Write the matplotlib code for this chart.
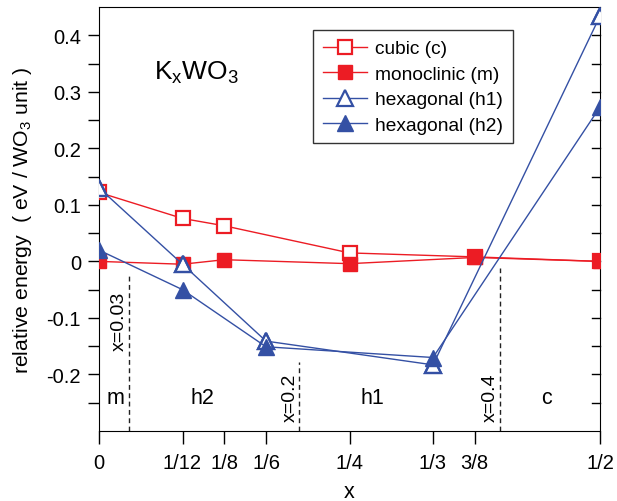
import matplotlib
matplotlib.use("Agg")
import matplotlib.pyplot as plt
import numpy as np

plt.rcParams['font.family'] = ['Liberation Sans', 'DejaVu Sans']
plt.rcParams['mathtext.fontset'] = 'custom'
plt.rcParams['mathtext.rm'] = 'Liberation Sans'
plt.rcParams['mathtext.it'] = 'Liberation Sans'

# Data
cubic_x = [0, 1/12, 1/8, 1/4, 3/8, 1/2]
cubic_y = [0.122, 0.076, 0.063, 0.015, 0.008, 0.0]
mono_x = [0, 1/12, 1/8, 1/4, 3/8, 1/2]
mono_y = [0.0, -0.005, 0.003, -0.004, 0.007, 0.0]
h1_x = [0, 1/12, 1/6, 1/3, 1/2]
h1_y = [0.130, -0.005, -0.141, -0.183, 0.434]
h2_x = [0, 1/12, 1/6, 1/3, 1/2]
h2_y = [0.020, -0.050, -0.151, -0.170, 0.273]

xticks = [0, 1/12, 1/8, 1/6, 1/4, 1/3, 3/8, 1/2]
xticklabels = ['0', '1/12', '1/8', '1/6', '1/4', '1/3', '3/8', '1/2']
yticks = [-0.2, -0.1, 0, 0.1, 0.2, 0.3, 0.4]
yticklabels = ['-0.2', '-0.1', '0', '0.1', '0.2', '0.3', '0.4']

boundaries = [0.03, 0.2, 0.4]
boundary_tops = [-0.02, -0.178, -0.012]
boundary_labels = ['x=0.03', 'x=0.2', 'x=0.4']
boundary_label_y = [-0.105, -0.24, -0.24]
phase_names = ['m', 'h2', 'h1', 'c']
phase_x = [0.016, 0.103, 0.273, 0.447]

red = '#ec1c24'
blue = '#3450a4'

fig = plt.figure(figsize=(6.17, 5.02), dpi=100)
ax = fig.add_axes([99/617, 1-432/502, 501/617, 424/502])

ax.plot(cubic_x, cubic_y, '-', color=red, lw=1, marker='s', ms=9.5,
        mfc='white', mec=red, mew=1.6, label='cubic (c)', zorder=3)
ax.plot(mono_x, mono_y, '-', color=red, lw=1, marker='s', ms=9.5,
        mfc=red, mec=red, label='monoclinic (m)', zorder=4)
ax.plot(h1_x, h1_y, '-', color=blue, lw=1, marker='^', ms=11,
        mfc='white', mec=blue, mew=1.6, label='hexagonal (h1)', zorder=5)
ax.plot(h2_x, h2_y, '-', color=blue, lw=1, marker='^', ms=11,
        mfc=blue, mec=blue, label='hexagonal (h2)', zorder=6)
ax.plot(h1_x, h1_y, 'none', marker='^', ms=11, mfc='none', mec=blue, mew=1.6, zorder=7)

for bx, bt, bl, by in zip(boundaries, boundary_tops, boundary_labels, boundary_label_y):
    ax.plot([bx, bx], [-0.3, bt], '--', color='#222222', lw=1, dashes=(3.5, 2.5))
    ax.text(bx - 0.0095, by, bl, rotation=90, ha='center', va='center', fontsize=14)

for px, pn in zip(phase_x, phase_names):
    ax.text(px, -0.24, pn, ha='center', va='center', fontsize=15.5)

ax.text(0.055, 0.335, r'K$_\mathregular{x}$WO$_\mathregular{3}$', fontsize=19, ha='left', va='center')

ax.set_xlim(0, 0.5)
ax.set_ylim(-0.3, 0.45)
ax.set_xticks(xticks)
ax.set_xticklabels(xticklabels, fontsize=14.5)
ax.set_yticks(yticks)
ax.set_yticklabels(yticklabels, fontsize=14.5)
ax.set_yticks(np.arange(-0.25, 0.45, 0.05), minor=True)
ax.tick_params(axis='y', which='both', direction='out', length=8, width=1, pad=5)
ax.tick_params(axis='x', which='major', direction='out', length=9, width=1, pad=7)

for yv in np.arange(-0.25, 0.45, 0.05):
    ax.plot([0.5 - 0.0075, 0.5], [yv, yv], color='black', lw=1, clip_on=False, zorder=1)

ax.set_xlabel('x', fontsize=15.5, labelpad=6)
ax.set_ylabel(r'relative energy  ( eV / WO$_\mathregular{3}$ unit )', fontsize=15.3, labelpad=9)

leg = ax.legend(loc='upper left', bbox_to_anchor=(0.427, 0.945), fontsize=13.8,
                frameon=True, fancybox=False, edgecolor='black', handlelength=2.3,
                borderpad=0.5, labelspacing=0.42, handletextpad=0.45, borderaxespad=0)
leg.get_frame().set_linewidth(1)

fig.savefig('out.png', dpi=100)
